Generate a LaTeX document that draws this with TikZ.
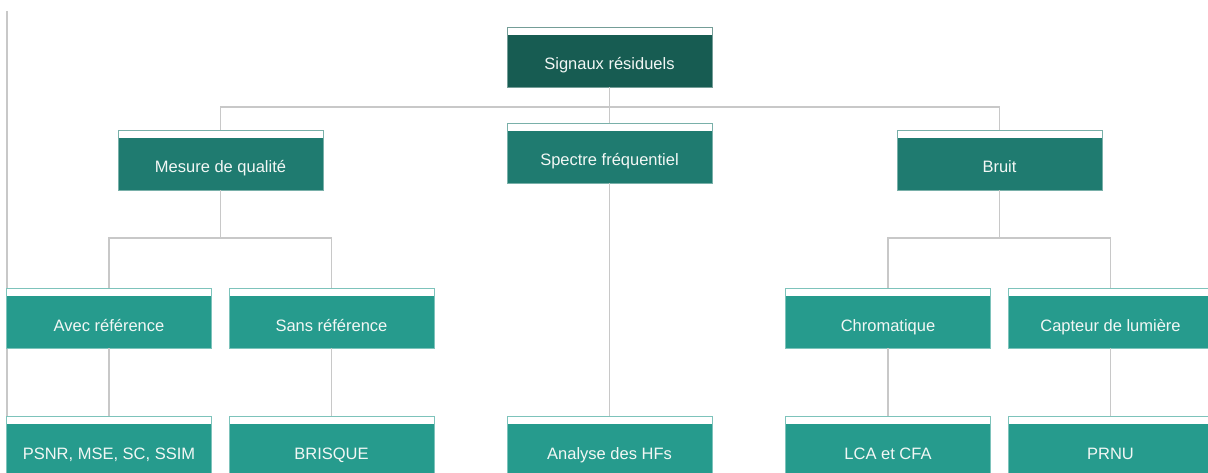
\documentclass[tikz,border=0pt]{standalone}
\usepackage{fontspec}
\setmainfont{Liberation Sans}
\usetikzlibrary{calc}

\definecolor{rootfill}{HTML}{175C52}
\definecolor{midfill}{HTML}{1F7B70}
\definecolor{leaffill}{HTML}{269B8D}
\definecolor{wire}{HTML}{C8C8C8}
\definecolor{labeltext}{HTML}{F2F7F5}

\tikzset{
  card/.style={
    rectangle, minimum width=205pt, minimum height=60pt, inner sep=0pt,
    draw=#1!60!white, line width=0.9pt, fill=white,
    path picture={\fill[#1] ([yshift=-8pt]path picture bounding box.north west)
      rectangle (path picture bounding box.south east);},
    text=labeltext, font=\fontsize{16.5}{19}\selectfont,
    text height=28pt, text depth=2pt
  },
  rootcard/.style={card=rootfill},
  midcard/.style={card=midfill},
  leafcard/.style={card=leaffill},
  link/.style={draw=wire, line width=1.3pt}
}

\begin{document}
\begin{tikzpicture}[x=1pt,y=-1pt]
  \useasboundingbox (0,0) rectangle (1208,473);

  % page margin rule on the left
  \draw[wire, line width=1.2pt] (7,11) -- (7,473);

  % root
  \node[rootcard] (root) at (609.5,57) {Signaux résiduels};

  % first level
  \node[midcard] (qual) at (220.5,160) {Mesure de qualité};
  \node[midcard] (spec) at (609.5,153) {Spectre fréquentiel};
  \node[midcard] (bruit) at (999.5,160) {Bruit};

  % second level
  \node[leafcard] (avec) at (109,318) {Avec référence};
  \node[leafcard] (sans) at (331.5,318) {Sans référence};
  \node[leafcard] (chrom) at (888,318) {Chromatique};
  \node[leafcard] (capt) at (1110.5,318) {Capteur de lumière};

  % third level
  \node[leafcard] (psnr) at (109,446) {PSNR, MSE, SC, SSIM};
  \node[leafcard] (brisque) at (331.5,446) {BRISQUE};
  \node[leafcard] (hf) at (609.5,446) {Analyse des HFs};
  \node[leafcard] (lca) at (888,446) {LCA et CFA};
  \node[leafcard] (prnu) at (1110.5,446) {PRNU};

  % bus rows
  \coordinate (busA) at (609.5,107);
  \coordinate (busB) at (220.5,238);
  \coordinate (busC) at (999.5,238);

  \draw[link] (root.south) -- (busA);
  \draw[link] (busA) -| (qual.north);
  \draw[link] (busA) -| (bruit.north);
  \draw[link] (busA) -- (spec.north);

  \draw[link] (qual.south) -- (busB);
  \draw[link] (busB) -| (avec.north);
  \draw[link] (busB) -| (sans.north);

  \draw[link] (bruit.south) -- (busC);
  \draw[link] (busC) -| (chrom.north);
  \draw[link] (busC) -| (capt.north);

  \draw[link] (avec.south) -- (psnr.north);
  \draw[link] (sans.south) -- (brisque.north);
  \draw[link] (spec.south) -- (hf.north);
  \draw[link] (chrom.south) -- (lca.north);
  \draw[link] (capt.south) -- (prnu.north);
\end{tikzpicture}
\end{document}
